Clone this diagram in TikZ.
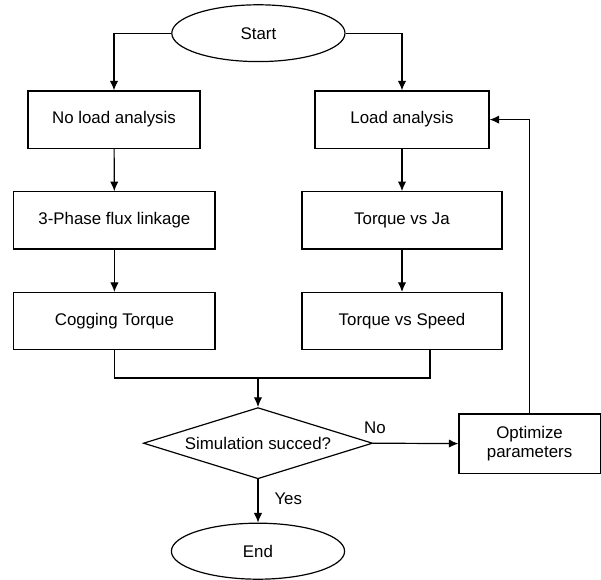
\documentclass[tikz,border=0pt]{standalone}
\usepackage{fontspec}
\setmainfont{Liberation Sans}
\usetikzlibrary{shapes.geometric,arrows.meta}
\begin{document}
\begin{tikzpicture}[>={Latex[length=2.4mm,width=2.1mm]},line width=0.85pt,
  every node/.style={font=\fontsize{12}{14}\selectfont},
  block/.style={draw,rectangle,minimum height=1.43cm,align=center},
  terminal/.style={draw,ellipse,minimum width=4.33cm,minimum height=1.42cm,inner sep=0pt},
  decision/.style={draw,diamond,aspect=3.2,minimum width=5.73cm,minimum height=1.78cm,inner sep=0pt}]
\useasboundingbox (0,0) rectangle (15.025,-14.5);

\node[terminal] (start) at (6.46,-0.83) {Start};
\node[block,minimum width=4.3cm] (noload) at (2.85,-2.99) {No load analysis};
\node[block,minimum width=4.35cm] (load) at (10.05,-2.99) {Load analysis};
\node[block,minimum width=5.03cm] (flux) at (2.86,-5.51) {3-Phase flux linkage};
\node[block,minimum width=5.0cm] (torqueja) at (10.05,-5.51) {Torque vs Ja};
\node[block,minimum width=5.03cm] (cogging) at (2.86,-8.03) {Cogging Torque};
\node[block,minimum width=5.0cm] (torquespeed) at (10.05,-8.03) {Torque vs Speed};
\node[decision] (check) at (6.45,-11.08) {Simulation succed?};
\node[block,minimum width=3.53cm,minimum height=1.48cm] (optimize) at (13.24,-11.09) {Optimize\\parameters};
\node[terminal,minimum height=1.4cm] (finish) at (6.45,-13.78) {End};

\coordinate (joinR) at (10.75,-9.45);
\coordinate (joinC) at (6.45,-9.45);

\draw[->] (start.west) -| (noload.north);
\draw[->] (start.east) -| (load.north);
\draw[->] (noload) -- (flux);
\draw[->] (flux) -- (cogging);
\draw[->] (load) -- (torqueja);
\draw[->] (torqueja) -- (torquespeed);
\draw (cogging.south) |- (joinR) -- (joinR |- torquespeed.south);
\draw[->] (joinC) -- (check.north);
\draw[->] (check.east) -- node[pos=0.02,above=3pt] {No} (optimize.west);
\draw[->] (check.south) -- node[pos=0.45,right=8pt] {Yes} (finish.north);
\draw[->] (optimize.north) |- (load.east);
\end{tikzpicture}
\end{document}
